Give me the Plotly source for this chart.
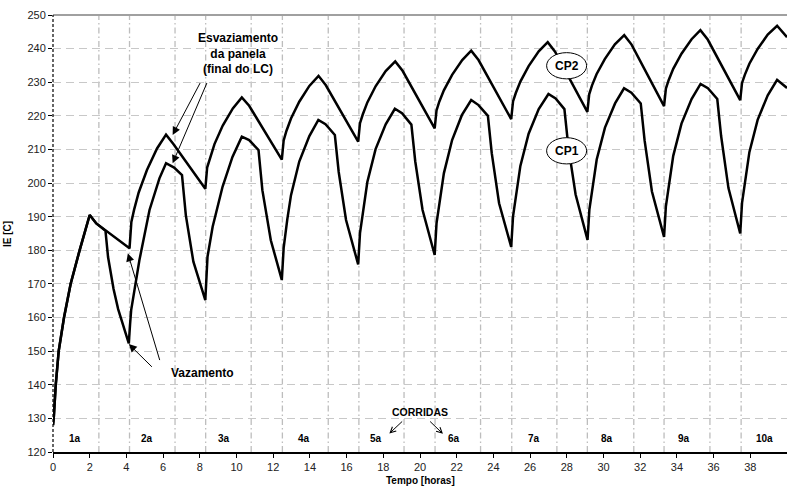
import plotly.graph_objects as go

# ---------------- data ----------------
cp2_t = [0, 0.04, 0.15, 0.31, 0.6, 0.96, 1.45, 2.0, 2.36,
         4.17, 4.27, 4.42, 4.67, 5.12, 5.67, 6.16, 6.56,
         8.3, 8.4, 8.55, 8.8, 9.25, 9.8, 10.29, 10.69,
         12.47, 12.57, 12.72, 12.97, 13.42, 13.97, 14.47, 14.87,
         16.63, 16.73, 16.88, 17.13, 17.58, 18.13, 18.65, 19.05,
         20.8, 20.9, 21.05, 21.3, 21.75, 22.3, 22.79, 23.19,
         24.97, 25.07, 25.22, 25.47, 25.92, 26.47, 26.96, 27.36,
         29.12, 29.22, 29.37, 29.62, 30.07, 30.62, 31.13, 31.53,
         33.3, 33.4, 33.55, 33.8, 34.25, 34.8, 35.28, 35.68,
         37.45, 37.55, 37.7, 37.95, 38.4, 38.95, 39.46, 39.86, 40.0]
cp2_v = [128, 130, 140, 150, 160, 170, 180, 190.5, 188.0,
         180.6, 188.4, 192.1, 197.2, 203.9, 210.3, 214.4, 211.6,
         198.3, 204.6, 207.5, 211.6, 217.1, 222.2, 225.5, 223.0,
         207.0, 212.7, 215.5, 219.2, 224.2, 228.9, 231.9, 229.1,
         212.3, 217.8, 220.4, 224.0, 228.8, 233.3, 236.2, 233.4,
         216.3, 221.6, 224.2, 227.6, 232.2, 236.6, 239.4, 236.6,
         219.0, 224.3, 226.8, 230.2, 234.8, 239.2, 241.9, 239.1,
         221.2, 226.4, 229.0, 232.4, 236.9, 241.3, 244.0, 241.2,
         222.9, 228.1, 230.6, 234.0, 238.5, 242.8, 245.5, 242.7,
         224.7, 229.8, 232.2, 235.5, 239.9, 244.2, 246.8, 244.4, 243.4]

cp1_t = [0, 0.04, 0.15, 0.31, 0.6, 0.96, 1.45, 2.0, 2.36,
         2.86, 3.0, 3.3, 3.55, 4.13,
         4.2, 4.26, 4.71, 5.26, 5.8, 6.16, 6.6, 7.03, 7.24, 7.65, 8.3,
         8.42, 8.7, 9.24, 9.78, 10.29, 10.69, 11.2, 11.41, 11.87, 12.47,
         12.57, 12.77, 12.97, 13.42, 13.97, 14.46, 14.85, 15.36, 15.57, 15.97, 16.63,
         16.73, 16.93, 17.13, 17.58, 18.13, 18.63, 19.02, 19.53, 19.74, 20.14, 20.8,
         20.9, 21.1, 21.3, 21.75, 22.28, 22.79, 23.19, 23.7, 23.91, 24.31, 24.97,
         25.07, 25.27, 25.47, 25.92, 26.47, 27.0, 27.39, 27.87, 28.08, 28.48, 29.13,
         29.23, 29.43, 29.63, 30.08, 30.63, 31.12, 31.52, 32.03, 32.24, 32.64, 33.3,
         33.4, 33.6, 33.8, 34.25, 34.8, 35.29, 35.69, 36.2, 36.41, 36.81, 37.45,
         37.55, 37.75, 37.95, 38.4, 38.95, 39.46, 39.86, 40.0]
cp1_v = [128, 130, 140, 150, 160, 170, 180, 190.5, 188.0,
         185.8, 178.0, 168.5, 162.5, 152.3,
         158.0, 162.2, 177.1, 192.0, 201.4, 205.9, 204.6, 202.4, 190.4, 176.6, 165.2,
         178.1, 187.0, 198.9, 207.8, 213.8, 212.8, 209.8, 197.9, 183.0, 171.2,
         180.7, 189.3, 196.4, 206.4, 214.0, 218.8, 217.5, 214.3, 203.3, 189.0, 175.8,
         185.1, 193.4, 200.3, 210.1, 217.5, 222.1, 220.8, 217.4, 206.5, 192.0, 178.6,
         188.0, 196.0, 202.9, 212.8, 220.2, 224.7, 223.2, 220.0, 208.9, 194.0, 181.0,
         190.1, 198.3, 205.1, 214.7, 222.0, 226.5, 225.2, 222.0, 211.0, 196.6, 183.1,
         192.1, 200.2, 207.0, 216.5, 223.7, 228.2, 226.9, 223.7, 212.7, 197.5, 184.0,
         193.1, 201.3, 208.1, 217.7, 225.0, 229.5, 228.2, 225.0, 214.0, 198.5, 185.0,
         194.1, 202.4, 209.2, 218.8, 226.1, 230.7, 228.9, 228.3]

run_labels = ["1a", "2a", "3a", "4a", "5a", "6a", "7a", "8a", "9a", "10a"]
run_label_t = [1.2, 5.13, 9.33, 13.7, 17.6, 21.87, 26.2, 30.2, 34.4, 38.8]
run_label_v = 124.1

phase_lines_t = [2.5, 4.17, 6.65, 8.32, 10.8, 12.5, 15.0, 16.67, 19.13, 20.82,
                 23.3, 25.0, 27.46, 29.12, 31.65, 33.3, 35.8, 37.5]

x_ticks = list(range(0, 41, 2))
y_ticks = list(range(120, 251, 10))

# ---------------- figure ----------------
FONT = "Liberation Sans, Arial, sans-serif"
fig = go.Figure()

fig.add_trace(go.Scatter(x=cp2_t, y=cp2_v, mode="lines", name="CP2",
                         line=dict(color="black", width=2.5), showlegend=False,
                         hoverinfo="skip"))
fig.add_trace(go.Scatter(x=cp1_t, y=cp1_v, mode="lines", name="CP1",
                         line=dict(color="black", width=2.5), showlegend=False,
                         hoverinfo="skip"))

shapes = []
for t in phase_lines_t:
    shapes.append(dict(type="line", xref="x", yref="paper", x0=t, x1=t, y0=0, y1=1,
                       line=dict(color="#bdbdbd", width=1.3, dash="6px,3px,1.5px,3px"),
                       layer="below"))
# top border and dashed left axis
shapes.append(dict(type="line", xref="paper", yref="paper", x0=0, x1=1, y0=1, y1=1,
                   line=dict(color="#a0a0a0", width=2), layer="below"))
shapes.append(dict(type="line", xref="paper", yref="paper", x0=0, x1=0, y0=0, y1=1,
                   line=dict(color="black", width=1.2, dash="3px,2px"), layer="above"))
# ellipses for the curve labels
for (cx, cy) in [(27.99, 234.9), (27.99, 209.6)]:
    shapes.append(dict(type="circle", xref="x", yref="y",
                       x0=cx - 1.09, x1=cx + 1.09, y0=cy - 3.9, y1=cy + 3.9,
                       line=dict(color="black", width=1), fillcolor="white",
                       layer="above"))

ann = []
bold = dict(family=FONT, size=12, color="black")
ann.append(dict(x=10.09, y=238.4, xref="x", yref="y", showarrow=False,
                text="<b>Esvaziamento<br>da panela<br>(final do LC)</b>", font=bold,
                align="center"))
ann.append(dict(x=8.14, y=143.5, xref="x", yref="y", showarrow=False,
                text="<b>Vazamento</b>", font=bold))
ann.append(dict(x=27.99, y=234.9, xref="x", yref="y", showarrow=False,
                text="<b>CP2</b>", font=dict(family=FONT, size=12, color="black")))
ann.append(dict(x=27.99, y=209.6, xref="x", yref="y", showarrow=False,
                text="<b>CP1</b>", font=dict(family=FONT, size=12, color="black")))
ann.append(dict(x=20.0, y=131.9, xref="x", yref="y", showarrow=False,
                text="<b>CORRIDAS</b>", font=dict(family=FONT, size=10.5, color="black")))

def arrow(hx, hy, tx, ty, head=2, size=1.6):
    return dict(x=hx, y=hy, ax=tx, ay=ty, xref="x", yref="y", axref="x", ayref="y",
                text="", showarrow=True, arrowhead=head, arrowsize=size,
                arrowwidth=1, arrowcolor="black", standoff=0, startstandoff=0)

ann.append(arrow(6.52, 214.3, 8.06, 230.2))
ann.append(arrow(6.52, 205.9, 8.42, 230.2))
ann.append(arrow(4.13, 152.1, 5.47, 144.9))
ann.append(arrow(4.08, 179.1, 5.84, 146.9))
ann.append(arrow(18.33, 125.5, 19.11, 129.5, head=5, size=1.1))
ann.append(arrow(21.25, 125.4, 20.47, 129.5, head=5, size=1.1))

for lab, t in zip(run_labels, run_label_t):
    ann.append(dict(x=t, y=run_label_v, xref="x", yref="y", showarrow=False,
                    text="<b>" + lab + "</b>",
                    font=dict(family=FONT, size=10, color="black")))

# axis titles
ann.append(dict(x=0.5, y=-0.066, xref="paper", yref="paper", showarrow=False,
                text="<b>Tempo [horas]</b>", yanchor="middle",
                font=dict(family=FONT, size=10, color="black")))
ann.append(dict(x=-0.062, y=0.5, xref="paper", yref="paper", showarrow=False,
                text="<b>IE [C]</b>", textangle=-90, xanchor="center",
                font=dict(family=FONT, size=10, color="black")))

fig.update_layout(
    width=787, height=487,
    margin=dict(l=53, r=0, t=15, b=35),
    paper_bgcolor="white", plot_bgcolor="white",
    font=dict(family=FONT, size=11, color="#222"),
    shapes=shapes, annotations=ann,
    xaxis=dict(range=[0, 40], tickvals=x_ticks, showgrid=False, zeroline=False,
               showline=True, linecolor="black", linewidth=1.5,
               ticks="outside", ticklen=4, tickcolor="black", tickwidth=1,
               tickfont=dict(family=FONT, size=11, color="#222"), automargin=False),
    yaxis=dict(range=[120, 250], tickvals=y_ticks, showgrid=True,
               gridcolor="#c8c8c8", gridwidth=1.3, griddash="8px,5px",
               zeroline=False, showline=False,
               ticks="outside", ticklen=4, tickcolor="black", tickwidth=1,
               tickfont=dict(family=FONT, size=11, color="#222"), automargin=False),
)

fig.write_html("out.html", config={"displayModeBar": False},
               post_script="document.body.style.margin='0';document.body.style.overflow='hidden';")
